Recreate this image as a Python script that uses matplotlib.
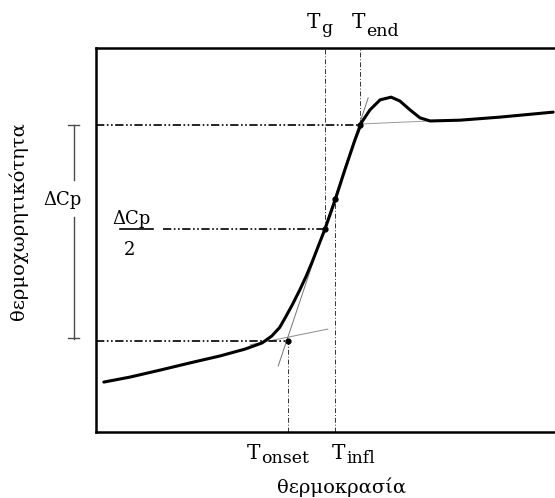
import numpy as np
import matplotlib.pyplot as plt

plt.rcParams['font.family'] = ['DejaVu Serif']

# --- Datos (unidades arbitrarias) -------------------------------------------
temp = [1.7, 7.4, 13.9, 20.5, 27.0, 32.5, 36.2, 38.3, 40.0, 41.2, 42.8, 44.4,
        45.8, 47.1, 49.9, 52.1, 54.2, 56.4, 57.9, 59.7, 61.9, 64.3, 66.2,
        68.4, 70.6, 72.8, 79.3, 88.0, 99.6]
cp = [13.0, 14.3, 16.1, 18.0, 19.8, 21.6, 23.2, 25.0, 27.2, 29.7, 33.2, 37.0,
      40.6, 44.3, 52.9, 60.4, 68.2, 76.0, 80.7, 83.9, 86.5, 87.2, 86.2,
      83.9, 81.8, 81.0, 81.2, 82.0, 83.3]

T_onset, T_g, T_infl, T_end = 41.8, 49.9, 52.1, 57.5
cp_low, cp_half, cp_high, cp_infl = 23.7, 52.9, 79.9, 60.7

# rectas tangentes
tan_low_x, tan_low_y = [33.6, 50.5], [22.7, 26.8]
tan_mid_x, tan_mid_y = [39.7, 59.3], [17.2, 87.0]
tan_high_x, tan_high_y = [57.5, 72.8], [80.2, 81.0]

# (nombre, valor, arriba?, desplazamiento T en px, bajada del subindice en px)
labels_T = [('onset', T_onset, False, -41, 4),
            ('infl', T_infl, False, -3, 4),
            ('g', T_g, True, -18, 5),
            ('end', T_end, True, -8, 8)]

# --- Figura -----------------------------------------------------------------
fig = plt.figure(figsize=(5.55, 4.98), dpi=100)
ax = fig.add_axes([96/555, 66/498, 470/555, 384/498])
ax.set_xlim(0, 102.4)
ax.set_ylim(0, 100)
ax.set_xticks([]), ax.set_yticks([])
ax.spines['right'].set_visible(False)
for s in ['left', 'top', 'bottom']:
    ax.spines[s].set_linewidth(1.8)

dd = (0, (5, 1.5, 1, 1.5, 1, 1.5))
dv = (0, (5, 2, 1, 2))

# tangentes
ax.plot(tan_low_x, tan_low_y, color='0.55', lw=0.7)
ax.plot(tan_mid_x, tan_mid_y, color='0.45', lw=0.7)
ax.plot(tan_high_x, tan_high_y, color='0.6', lw=0.7)

# lineas horizontales
ax.plot([0, T_onset], [cp_low, cp_low], color='k', lw=1.2, linestyle=dd)
ax.plot([0, T_end], [cp_high, cp_high], color='k', lw=1.2, linestyle=dd)
ax.plot([14.6, T_g], [cp_half, cp_half], color='k', lw=1.2, linestyle=dd)

# lineas verticales
ax.plot([T_onset, T_onset], [0, cp_low], color='0.2', lw=0.7, linestyle=dv)
ax.plot([T_infl, T_infl], [0, cp_infl], color='0.2', lw=0.7, linestyle=dv)
ax.plot([T_g, T_g], [cp_half, 100], color='0.2', lw=0.7, linestyle=dv)
ax.plot([T_end, T_end], [cp_high, 100], color='0.2', lw=0.7, linestyle=dv)

# curva
ax.plot(temp, cp, color='k', lw=2.2, solid_capstyle='round', solid_joinstyle='round')
ax.plot([T_onset, T_g, T_infl, T_end], [cp_low, cp_half, cp_infl, cp_high],
        'o', color='k', ms=3.5)

# etiquetas T
for sub, xv, top, dx, dy in labels_T:
    y0 = 105.2 if top else -7.0
    ax.annotate('T', (xv, y0), xytext=(dx, 0), textcoords='offset pixels',
                ha='left', va='baseline', fontsize=14.5, annotation_clip=False)
    ax.annotate(sub, (xv, y0), xytext=(dx + 14, -dy), textcoords='offset pixels',
                ha='left', va='baseline', fontsize=12.5, annotation_clip=False)

# barra Delta Cp
xb = -4.8
ax.plot([xb, xb], [cp_high, 65.6], color='0.3', lw=1, clip_on=False)
ax.plot([xb, xb], [56.0, cp_low + 0.5], color='0.3', lw=1, clip_on=False)
ax.plot([xb - 1.2, xb + 1.2], [cp_high, cp_high], color='0.3', lw=1, clip_on=False)
ax.plot([xb - 1.2, xb + 1.2], [cp_low + 0.8, cp_low + 0.8], color='0.3', lw=1, clip_on=False)
ax.text(-7.3, 60.4, '\u0394Cp', ha='center', va='center', fontsize=13, clip_on=False)

# Delta Cp / 2
ax.plot([5.2, 12.4], [cp_half, cp_half], color='k', lw=1.2)
ax.text(7.7, 55.4, '\u0394Cp', ha='center', va='center', fontsize=13)
ax.text(7.4, 47.4, '2', ha='center', va='center', fontsize=13)

# ejes
ax.text(-17.0, 54.9, '\u03b8\u03b5\u03c1\u03bc\u03bf\u03c7\u03c9\u03c1\u03b7\u03c4\u03b9\u03ba\u03cc\u03c4\u03b7\u03c4\u03b1',
        rotation=90, ha='center', va='center', fontsize=14, clip_on=False)
ax.text(53.4, -14.3, '\u03b8\u03b5\u03c1\u03bc\u03bf\u03ba\u03c1\u03b1\u03c3\u03af\u03b1',
        ha='center', va='center', fontsize=14, clip_on=False)

fig.savefig('out.png', dpi=100)
